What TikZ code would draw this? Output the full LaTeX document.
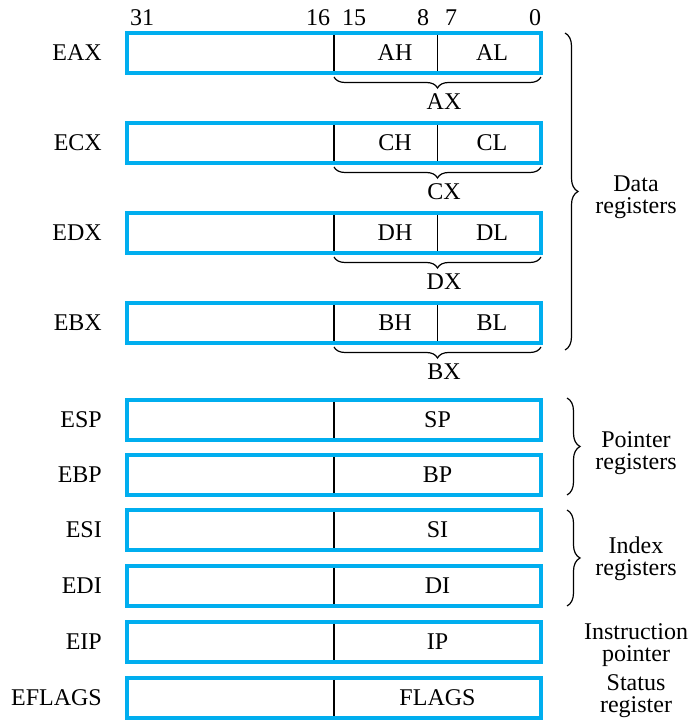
\documentclass[tikz,border=0pt]{standalone}
\usepackage{fontspec}
\setmainfont{Liberation Serif}
\usetikzlibrary{decorations.pathreplacing}
\definecolor{regblue}{RGB}{0,174,239}
\tikzset{
  regbox/.style={draw=regblue,line width=4pt,minimum width=414pt,minimum height=40pt,inner sep=0pt,outer sep=0pt},
  reglbl/.style={anchor=east,inner sep=0pt},
  bitno/.style={inner sep=0pt},
  halfline/.style={line width=1.2pt},
  subbrace/.style={decorate,decoration={brace,mirror,amplitude=11pt},line width=1.2pt},
  grpbrace/.style={decorate,decoration={brace,amplitude=13pt},line width=1.2pt},
  grptext/.style={align=center,inner sep=0pt}
}

\begin{document}
\begin{tikzpicture}[x=1pt,y=1pt,font=\fontsize{24}{22}\selectfont]
  \useasboundingbox (0,0) rectangle (688,720);
  \node[bitno] (b31) at (142,702) {31}; \node[bitno] (b16) at (318,702) {16};
  \node[bitno] (b15) at (354,702) {15}; \node[bitno] (b8) at (423,702) {8};
  \node[bitno] (b7) at (451,702) {7}; \node[bitno] (b0) at (535,702) {0};

  % data registers
  \node[regbox] (eax) at (334,667) {}; \node[reglbl] (leax) at ([xshift=-25pt]eax.west) {EAX};
  \draw[halfline] ([yshift=-2pt]eax.north) -- ([yshift=2pt]eax.south);
  \draw[halfline] ([xshift=103.5pt,yshift=-2pt]eax.north) -- ([xshift=103.5pt,yshift=2pt]eax.south);
  \node (ah) at ([xshift=61pt]eax.center) {AH}; \node (al) at ([xshift=158pt]eax.center) {AL};
  \draw[subbrace] ([yshift=-4pt]eax.south) -- ([yshift=-4pt]eax.south east);
  \node (ax) at ([xshift=110pt,yshift=-49pt]eax.center) {AX};

  \node[regbox] (ecx) at (334,577) {}; \node[reglbl] (lecx) at ([xshift=-25pt]ecx.west) {ECX};
  \draw[halfline] ([yshift=-2pt]ecx.north) -- ([yshift=2pt]ecx.south);
  \draw[halfline] ([xshift=103.5pt,yshift=-2pt]ecx.north) -- ([xshift=103.5pt,yshift=2pt]ecx.south);
  \node (ch) at ([xshift=61pt]ecx.center) {CH}; \node (cl) at ([xshift=158pt]ecx.center) {CL};
  \draw[subbrace] ([yshift=-4pt]ecx.south) -- ([yshift=-4pt]ecx.south east);
  \node (cx) at ([xshift=110pt,yshift=-49pt]ecx.center) {CX};

  \node[regbox] (edx) at (334,487) {}; \node[reglbl] (ledx) at ([xshift=-25pt]edx.west) {EDX};
  \draw[halfline] ([yshift=-2pt]edx.north) -- ([yshift=2pt]edx.south);
  \draw[halfline] ([xshift=103.5pt,yshift=-2pt]edx.north) -- ([xshift=103.5pt,yshift=2pt]edx.south);
  \node (dh) at ([xshift=61pt]edx.center) {DH}; \node (dl) at ([xshift=158pt]edx.center) {DL};
  \draw[subbrace] ([yshift=-4pt]edx.south) -- ([yshift=-4pt]edx.south east);
  \node (dx) at ([xshift=110pt,yshift=-49pt]edx.center) {DX};

  \node[regbox] (ebx) at (334,397) {}; \node[reglbl] (lebx) at ([xshift=-25pt]ebx.west) {EBX};
  \draw[halfline] ([yshift=-2pt]ebx.north) -- ([yshift=2pt]ebx.south);
  \draw[halfline] ([xshift=103.5pt,yshift=-2pt]ebx.north) -- ([xshift=103.5pt,yshift=2pt]ebx.south);
  \node (bh) at ([xshift=61pt]ebx.center) {BH}; \node (bl) at ([xshift=158pt]ebx.center) {BL};
  \draw[subbrace] ([yshift=-4pt]ebx.south) -- ([yshift=-4pt]ebx.south east);
  \node (bx) at ([xshift=110pt,yshift=-49pt]ebx.center) {BX};

  \draw[grpbrace] ([xshift=24pt]eax.north east) -- ([xshift=24pt,yshift=-7pt]ebx.south east);
  \node[grptext] (data) at (636,523) {Data\\registers};

  % pointer and index registers
  \node[regbox] (esp) at (334,300) {}; \node[reglbl] (lesp) at ([xshift=-25pt]esp.west) {ESP};
  \draw[halfline] ([yshift=-2pt]esp.north) -- ([yshift=2pt]esp.south);
  \node (sp) at ([xshift=103.5pt]esp.center) {SP};
  \node[regbox] (ebp) at (334,245) {}; \node[reglbl] (lebp) at ([xshift=-25pt]ebp.west) {EBP};
  \draw[halfline] ([yshift=-2pt]ebp.north) -- ([yshift=2pt]ebp.south);
  \node (bp) at ([xshift=103.5pt]ebp.center) {BP};
  \draw[grpbrace] ([xshift=26pt,yshift=2pt]esp.north east) -- ([xshift=26pt]ebp.south east);
  \node[grptext] (ptr) at (636,267) {Pointer\\registers};

  \node[regbox] (esi) at (334,190) {}; \node[reglbl] (lesi) at ([xshift=-25pt]esi.west) {ESI};
  \draw[halfline] ([yshift=-2pt]esi.north) -- ([yshift=2pt]esi.south);
  \node (si) at ([xshift=103.5pt]esi.center) {SI};
  \node[regbox] (edi) at (334,134) {}; \node[reglbl] (ledi) at ([xshift=-25pt]edi.west) {EDI};
  \draw[halfline] ([yshift=-2pt]edi.north) -- ([yshift=2pt]edi.south);
  \node (di) at ([xshift=103.5pt]edi.center) {DI};
  \draw[grpbrace] ([xshift=26pt]esi.north east) -- ([xshift=26pt]edi.south east);
  \node[grptext] (idx) at (636,161) {Index\\registers};

  % instruction pointer and flags
  \node[regbox] (eip) at (334,78) {}; \node[reglbl] (leip) at ([xshift=-25pt]eip.west) {EIP};
  \draw[halfline] ([yshift=-2pt]eip.north) -- ([yshift=2pt]eip.south);
  \node (ip) at ([xshift=103.5pt]eip.center) {IP};
  \node[grptext] (instr) at (636,75) {Instruction\\pointer};

  \node[regbox] (eflags) at (334,22) {}; \node[reglbl] (leflags) at ([xshift=-25pt]eflags.west) {EFLAGS};
  \draw[halfline] ([yshift=-2pt]eflags.north) -- ([yshift=2pt]eflags.south);
  \node (flags) at ([xshift=103.5pt]eflags.center) {FLAGS};
  \node[grptext] (status) at (636,24) {Status\\register};
\end{tikzpicture}
\end{document}
